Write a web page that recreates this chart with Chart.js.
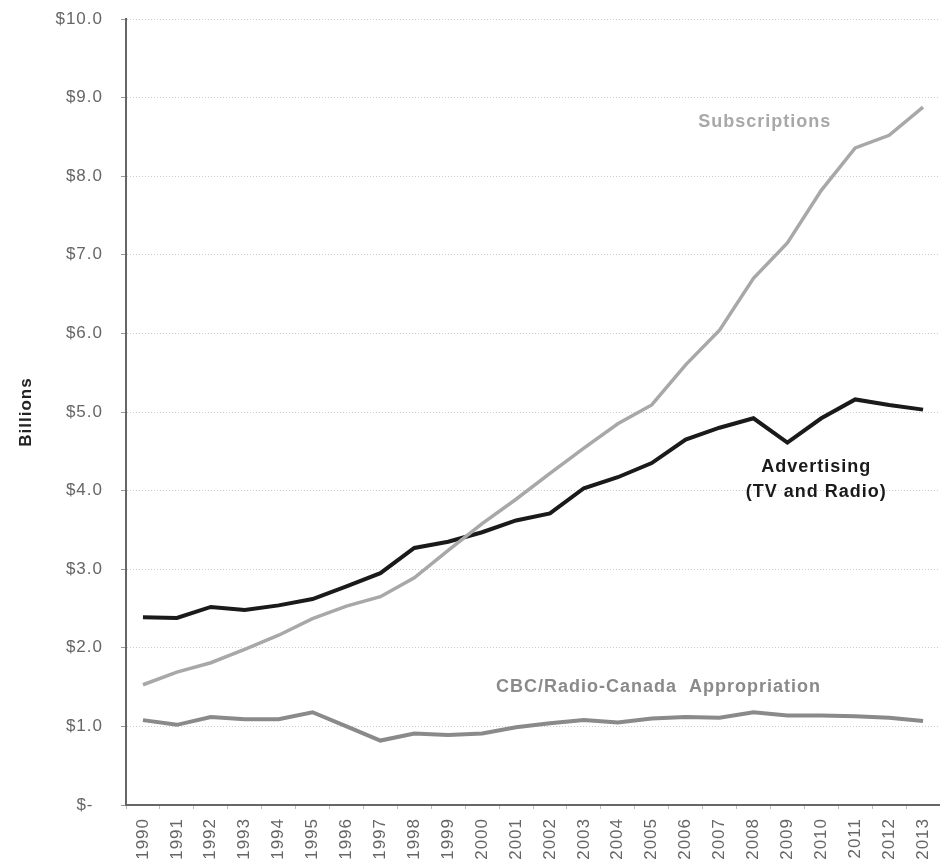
<!doctype html>
<html lang="en">
<head>
    <meta charset="utf-8">
    <title>Revenues</title>
    <script src="https://cdn.jsdelivr.net/npm/chart.js"></script>
    <style>
        html, body { margin: 0; padding: 0; background: #ffffff; }
        .wrap { width: 940px; height: 859px; }
    </style>
</head>
<body>
<div class="wrap"><canvas id="chart" width="940" height="859"></canvas></div>
<script>
    const years = ['1990', '1991', '1992', '1993', '1994', '1995', '1996', '1997', '1998', '1999', '2000', '2001',
        '2002', '2003', '2004', '2005', '2006', '2007', '2008', '2009', '2010', '2011', '2012', '2013'];

    const subscriptions = [1.53, 1.69, 1.81, 1.98, 2.16, 2.37, 2.53, 2.65, 2.89, 3.24, 3.58, 3.89,
        4.22, 4.54, 4.85, 5.09, 5.60, 6.04, 6.70, 7.15, 7.82, 8.36, 8.52, 8.88];
    const advertising = [2.39, 2.38, 2.52, 2.48, 2.54, 2.62, 2.78, 2.95, 3.27, 3.35, 3.47, 3.62,
        3.71, 4.03, 4.17, 4.35, 4.65, 4.80, 4.92, 4.61, 4.92, 5.16, 5.09, 5.03];
    const cbc = [1.08, 1.02, 1.12, 1.09, 1.09, 1.18, 1.00, 0.82, 0.91, 0.89, 0.91, 0.99,
        1.04, 1.08, 1.05, 1.10, 1.12, 1.11, 1.18, 1.14, 1.14, 1.13, 1.11, 1.07];

    const yTickLabels = ['$-\u2002', '$1.0', '$2.0', '$3.0', '$4.0', '$5.0', '$6.0', '$7.0', '$8.0', '$9.0', '$10.0'];

    // series labels placed in data space: text lines, x index, y value, colour
    const seriesLabels = [
        { lines: ['Subscriptions'], x: 18.33, y: 8.69, color: '#a8a8a8' },
        { lines: ['Advertising', '(TV and Radio)'], x: 19.85, y: 4.3, color: '#1a1a1a' },
        { lines: ['CBC/Radio-Canada  Appropriation'], x: 15.2, y: 1.5, color: '#8a8a8a' }
    ];

    const FONT = 'Arial, "Liberation Sans", sans-serif';

    // the picture's text is a bit spread out
    const spacingPlugin = {
        id: 'spacing',
        beforeLayout(chart) { chart.ctx.letterSpacing = '1px'; },
        beforeDraw(chart) { chart.ctx.letterSpacing = '1px'; }
    };

    const labelPlugin = {
        id: 'seriesLabels',
        afterDatasetsDraw(chart) {
            const ctx = chart.ctx;
            const xs = chart.scales.x, ys = chart.scales.y;
            ctx.save();
            ctx.font = 'bold 18px ' + FONT;
            ctx.letterSpacing = '1px';
            ctx.textAlign = 'center';
            ctx.textBaseline = 'middle';
            seriesLabels.forEach(l => {
                const px = xs.getPixelForValue(l.x);
                let py = ys.getPixelForValue(l.y);
                ctx.fillStyle = l.color;
                l.lines.forEach(t => {
                    ctx.fillText(t, px, py);
                    py += 25;
                });
            });
            ctx.restore();
        }
    };

    const ctx = document.getElementById('chart').getContext('2d');
    new Chart(ctx, {
        type: 'line',
        data: {
            labels: years,
            datasets: [{
                label: 'Subscriptions',
                data: subscriptions,
                borderColor: '#a8a8a8',
                borderWidth: 3.5,
                pointRadius: 0,
                tension: 0
            }, {
                label: 'Advertising (TV and Radio)',
                data: advertising,
                borderColor: '#1a1a1a',
                borderWidth: 4,
                pointRadius: 0,
                tension: 0
            }, {
                label: 'CBC/Radio-Canada Appropriation',
                data: cbc,
                borderColor: '#8a8a8a',
                borderWidth: 4,
                pointRadius: 0,
                tension: 0
            }]
        },
        options: {
            responsive: false,
            animation: false,
            layout: { padding: { top: 19, right: 0, left: 0, bottom: 0 } },
            plugins: {
                legend: { display: false },
                tooltip: { enabled: false }
            },
            scales: {
                x: {
                    offset: true,
                    grid: {
                        display: true,
                        drawOnChartArea: false,
                        tickLength: 4,
                        color: '#bbbbbb',
                        offset: true
                    },
                    border: { color: '#666666', width: 2 },
                    ticks: {
                        autoSkip: false,
                        minRotation: 90,
                        maxRotation: 90,
                        padding: 9,
                        color: '#666666',
                        font: { family: FONT, size: 17 }
                    },
                    afterFit(scale) {
                        scale.height = 54;
                        scale.paddingLeft = 0;
                        scale.paddingRight = 0;
                    }
                },
                y: {
                    min: 0,
                    max: 10,
                    grid: {
                        color: '#cccccc',
                        tickLength: 5,
                        tickColor: '#999999'
                    },
                    border: { color: '#666666', width: 2, dash: [1, 2] },
                    ticks: {
                        stepSize: 1,
                        padding: 18,
                        color: '#666666',
                        font: { family: FONT, size: 17 },
                        callback: function (value) {
                            return yTickLabels[Math.round(value)];
                        }
                    },
                    title: {
                        display: true,
                        text: 'Billions',
                        color: '#222222',
                        padding: { top: 16, bottom: 0 },
                        font: { family: FONT, size: 17, weight: 'bold' }
                    },
                    afterFit(scale) {
                        scale.width = 126;
                        scale.paddingTop = 0;
                        scale.paddingBottom = 0;
                    }
                }
            }
        },
        plugins: [spacingPlugin, labelPlugin]
    });
</script>
</body>
</html>
